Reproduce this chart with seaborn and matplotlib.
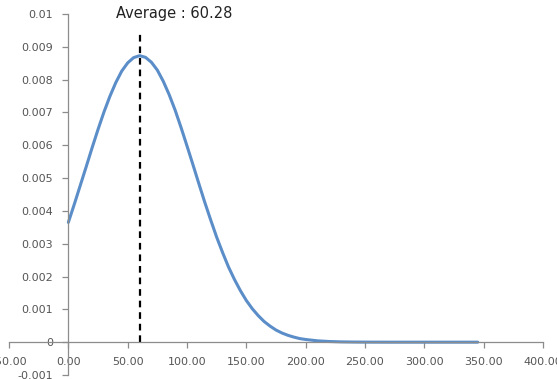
import numpy as np
import matplotlib
matplotlib.use("Agg")
import matplotlib.pyplot as plt
import seaborn as sns
import pandas as pd

# values
x_vals = [0, 5, 10, 15, 20, 25, 30, 35, 40, 45, 50, 55, 60, 65, 70, 75, 80, 85, 90, 95,
          100, 105, 110, 115, 120, 125, 130, 135, 140, 145, 150, 155, 160, 165, 170, 175,
          180, 185, 190, 195, 200, 210, 220, 230, 240, 250, 270, 290, 310, 330, 345]
density = [0.00365, 0.00420, 0.00477, 0.00534, 0.00592, 0.00648, 0.00701, 0.00749, 0.00791,
           0.00826, 0.00851, 0.00867, 0.00873, 0.00868, 0.00853, 0.00829, 0.00795, 0.00754,
           0.00707, 0.00654, 0.00598, 0.00541, 0.00483, 0.00426, 0.00372, 0.00320, 0.00273,
           0.00229, 0.00191, 0.00157, 0.00127, 0.00102, 0.00081, 0.00063, 0.00049, 0.00037,
           0.00028, 0.00021, 0.000155, 0.00011, 0.000082, 0.000041, 0.00002, 0.000009,
           0.000004, 0.000002, 0.0, 0.0, 0.0, 0.0, 0.0]
average = 60.28
avg_line_top = 0.0094

x_ticks = [-50, 0, 50, 100, 150, 200, 250, 300, 350, 400]
y_ticks = [-0.001, 0, 0.001, 0.002, 0.003, 0.004, 0.005, 0.006, 0.007, 0.008, 0.009, 0.01]
y_labels = ["-0.001", "0", "0.001", "0.002", "0.003", "0.004", "0.005", "0.006",
            "0.007", "0.008", "0.009", "0.01"]

df = pd.DataFrame({"x": x_vals, "density": density})

sns.set_style("white")
plt.rcParams["font.family"] = ["DejaVu Sans"]

fig = plt.figure(figsize=(5.57, 3.79), dpi=100)
ax = fig.add_axes([9 / 557, 4 / 379, 534 / 557, 361 / 379])

sns.lineplot(data=df, x="x", y="density", color="#5b8ec8", linewidth=2.2, ax=ax)
ax.plot([average, average], [0, avg_line_top], color="black", linestyle=(0, (3, 2.2)),
        linewidth=1.6)
ax.text(average + 29, 0.01, "Average : %.2f" % average, ha="center", va="center",
        fontsize=10.5, color="#222222")

ax.set_xlim(-50, 400)
ax.set_ylim(-0.001, 0.01)
ax.set_xlabel("")
ax.set_ylabel("")

ax.spines["right"].set_visible(False)
ax.spines["top"].set_visible(False)
ax.spines["left"].set_position(("data", 0))
ax.spines["bottom"].set_position(("data", 0))
for s in ("left", "bottom"):
    ax.spines[s].set_color("#8c8c8c")
    ax.spines[s].set_linewidth(0.9)

ax.set_xticks(x_ticks)
ax.set_xticklabels(["%.2f" % v for v in x_ticks])
ax.set_yticks(y_ticks)
ax.set_yticklabels(y_labels)
ax.tick_params(axis="both", direction="out", length=4, width=0.9, color="#8c8c8c",
               labelsize=8, labelcolor="#555555", left=True, bottom=True)
ax.tick_params(axis="x", pad=7)
ax.tick_params(axis="y", pad=7)

fig.savefig("out.png", dpi=100)
